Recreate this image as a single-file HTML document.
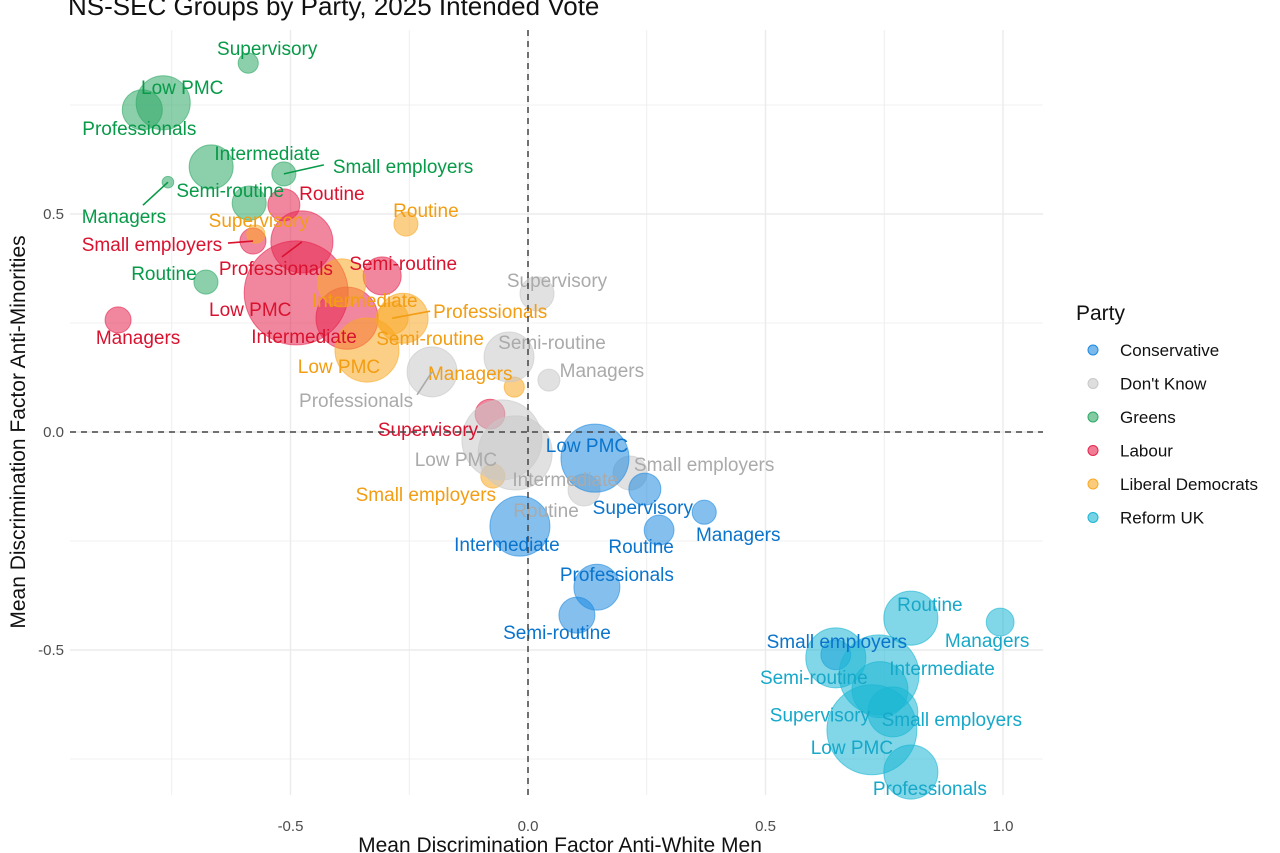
<!DOCTYPE html>
<html><head><meta charset="utf-8">
<style>
body{margin:0;background:#fff;font-family:"Liberation Sans",sans-serif;}
svg{display:block}
</style></head>
<body>
<svg id="chart" width="1280" height="853" viewBox="0 0 1280 853">
<text x="68" y="15" font-size="26" fill="#111">NS-SEC Groups by Party, 2025 Intended Vote</text>
<g id="grid"></g>
<g id="marks"></g>
<g id="labels"></g>
<text x="560" y="852" font-size="21" fill="#111" text-anchor="middle">Mean Discrimination Factor Anti-White Men</text>
<text transform="translate(25,432) rotate(-90)" font-size="21" fill="#111" text-anchor="middle">Mean Discrimination Factor Anti-Minorities</text>
<g id="legend"></g>
</svg>
<script>
const parties = ["Conservative","Don't Know","Greens","Labour","Liberal Democrats","Reform UK"];
const fillColors = ["#1f8ae0","#c8c8c8","#2ea866","#e6254f","#f9a825","#1ab6d3"];
const textColors = ["#0a74cc","#aaaaaa","#079a48","#d9122f","#f29d12","#17a8c9"];
const xTicks = [-0.5,0,0.5,1.0];
const xTickLabels = ["-0.5","0.0","0.5","1.0"];
const yTicks = [-0.5,0,0.5];
const yTickLabels = ["-0.5","0.0","0.5"];

const groups = ["Supervisory","Low PMC","Professionals","Intermediate","Small employers","Managers","Semi-routine","Routine",
"Routine","Small employers","Professionals","Semi-routine","Low PMC","Managers","Intermediate","Supervisory",
"Routine","Supervisory","Intermediate","Professionals","Semi-routine","Low PMC","Managers","Small employers",
"Supervisory","Semi-routine","Managers","Professionals","Low PMC","Intermediate","Routine","Small employers",
"Low PMC","Supervisory","Managers","Routine","Intermediate","Professionals","Semi-routine","Small employers",
"Routine","Managers","Intermediate","Semi-routine","Supervisory","Small employers","Low PMC","Professionals"];
const partyIdx = [2,2,2,2,2,2,2,2, 3,3,3,3,3,3,3,3, 4,4,4,4,4,4,4,4, 1,1,1,1,1,1,1,1, 0,0,0,0,0,0,0,0, 5,5,5,5,5,5,5,5];
const xVals = [-0.589,-0.768,-0.812,-0.667,-0.514,-0.758,-0.587,-0.678,
-0.514,-0.579,-0.476,-0.307,-0.488,-0.863,-0.381,-0.08,
-0.257,-0.573,-0.392,-0.286,-0.263,-0.339,-0.029,-0.074,
0.019,-0.04,0.044,-0.202,-0.055,-0.027,0.118,0.215,
0.141,0.246,0.371,0.276,-0.017,0.145,0.103,0.648,
0.806,0.994,0.739,0.648,0.741,0.768,0.724,0.806];
const yVals = [0.846,0.755,0.739,0.608,0.592,0.573,0.525,0.344,
0.521,0.438,0.436,0.358,0.319,0.257,0.261,0.041,
0.477,0.454,0.342,0.261,0.261,0.188,0.103,-0.101,
0.317,0.172,0.119,0.138,-0.018,-0.048,-0.133,-0.094,
-0.06,-0.131,-0.184,-0.225,-0.216,-0.356,-0.42,-0.511,
-0.427,-0.436,-0.557,-0.518,-0.591,-0.642,-0.683,-0.78];
const sizes = [21,151,83,100,30,7,60,30,
53,35,199,75,559,35,199,46,
30,17,119,53,129,212,21,30,
60,129,25,129,331,283,53,60,
239,53,30,46,186,109,67,46,
151,40,331,186,162,129,418,151];
/* label offsets (px) relative to the bubble centre */
const labDx = [19,19,-3,56,49,-44,-19,-42, 48,-101,-26,21,-46,20,-43,-62, 20,3,23,41,27,-28,-44,-67, 20,43,53,-76,-46,50,-38,74, -8,-2,34,-18,-13,20,-20,1, 19,-13,63,-22,-60,59,-20,19];
const labDy = [-15,-16,18,-14,-8,34,-13,-9, -12,3,26,-13,16,17,18,15, -14,-14,17,-7,20,16,-14,18, -14,-15,-10,28,19,26,20,-9, -13,18,22,16,18,-13,17,-14, -14,18,-7,19,25,7,17,16];
/* leader-line end offsets from bubble centre for labels placed away from their bubble */
const leaders=[4,5,9,10,19,27];
const leadDx=[40,-25,-25,-20,38,-15];
const leadDy=[-9,23,2,15,-7,23];
const X0=528, XS=475, Y0=432, YS=436;
const sx = v => X0 + v*XS;
const sy = v => Y0 - v*YS;
const NS="http://www.w3.org/2000/svg";
function mk(tag, attrs, parent){const e=document.createElementNS(NS,tag);for(const k in attrs)e.setAttribute(k,attrs[k]);parent.appendChild(e);return e;}
const grid=document.getElementById('grid');
const L=70,R=1043,T=30,B=795;
for(let v=-0.75; v<=1.01; v+=0.25){
  const x=sx(v); if(x<L||x>R) continue;
  const major=Math.abs(v*2-Math.round(v*2))<1e-6;
  const ln=mk('line',{x1:x,x2:x,y1:T,y2:B,stroke:'#ebebeb','stroke-width':major?1.4:0.8},grid);
  
  
}
for(let v=-0.75; v<=0.76; v+=0.25){
  const y=sy(v);
  const major=Math.abs(v*2-Math.round(v*2))<1e-6;
  const ln=mk('line',{x1:L,x2:R,y1:y,y2:y,stroke:'#ebebeb','stroke-width':major?1.4:0.8},grid);
  
  
}
xTicks.forEach((v,i)=>{
  const t=mk('text',{x:sx(v),y:831,'font-size':15,fill:'#4d4d4d','text-anchor':'middle'},grid);
  t.textContent=xTickLabels[i];
  
  
});
yTicks.forEach((v,i)=>{
  const t=mk('text',{x:64,y:sy(v)+5,'font-size':15,fill:'#4d4d4d','text-anchor':'end'},grid);
  t.textContent=yTickLabels[i];
  
  
});
const marks=document.getElementById('marks');
const labels=document.getElementById('labels');
const radius = n => 2.2*Math.sqrt(n);
xVals.forEach((xv,i)=>{
  const p=partyIdx[i];
  const c=mk('circle',{cx:sx(xv),cy:sy(yVals[i]),r:radius(sizes[i]),fill:fillColors[p],'fill-opacity':0.55,stroke:fillColors[p],'stroke-opacity':0.6,'stroke-width':1},marks);
  
  
});
xVals.forEach((xv,i)=>{
  const p=partyIdx[i];
  const px=sx(xv), py=sy(yVals[i]);
  const lx=px+labDx[i], ly=py+labDy[i];
  const t=mk('text',{x:lx,y:ly+7,'font-size':19,fill:textColors[p],'text-anchor':'middle'},labels);
  if(i===4||i===19){t.setAttribute('text-anchor','start');}
  t.textContent=groups[i];
  
  
  const k=leaders.indexOf(i);
  if(k>=0){
    const ln=mk('line',{x1:px,y1:py,x2:px+leadDx[k],y2:py+leadDy[k],stroke:textColors[p],'stroke-width':1.6},labels);
    
    
  }
});
const dl=mk('line',{x1:sx(0),x2:sx(0),y1:T,y2:B,stroke:'#444','stroke-width':1.5,'stroke-dasharray':'6,5'},labels);


const hl=mk('line',{x1:L,x2:R,y1:sy(0),y2:sy(0),stroke:'#444','stroke-width':1.5,'stroke-dasharray':'6,5'},labels);


const lg=document.getElementById('legend');
const lt=mk('text',{x:1076,y:320,'font-size':21,fill:'#111'},lg);
lt.textContent='Party';


parties.forEach((p,i)=>{
  const y=350+i*33.5;
  const c=mk('circle',{cx:1093,cy:y,r:5,fill:fillColors[i],'fill-opacity':0.6,stroke:fillColors[i]},lg);
  
  
  const t=mk('text',{x:1120,y:y+6,'font-size':17,fill:'#111'},lg);
  t.textContent=p;
  
  
});
</script>
</body></html>
